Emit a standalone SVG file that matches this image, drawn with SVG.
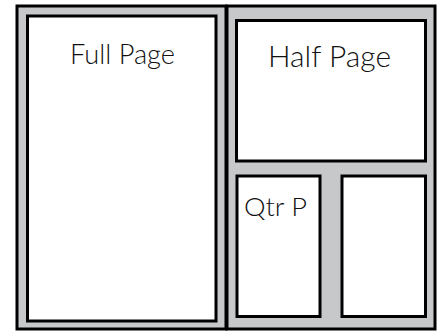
<svg xmlns="http://www.w3.org/2000/svg" width="440" height="333" viewBox="0 0 440 333">
<style>
.panel{fill:#c7c8ca;stroke:#000;stroke-width:3}
.box{fill:#fff;stroke:#000;stroke-width:3}
.lbl{font-family:Lato,"Open Sans","Liberation Sans",sans-serif;font-weight:300;fill:#111}
</style>
<rect width="440" height="333" fill="#fff"/>
<g id="left-panel"><rect class="panel" x="17" y="6" width="209" height="323"/></g>
<g id="right-panel"><rect class="panel" x="227" y="6" width="208" height="323"/></g>
<g id="full-page">
<rect class="box" x="27.5" y="16" width="188.5" height="305"/>
<text class="lbl" x="70" y="64" font-size="27" textLength="105" lengthAdjust="spacingAndGlyphs">Full Page</text>
</g>
<g id="half-page">
<rect class="box" x="236.5" y="20.5" width="189" height="140.5"/>
<text class="lbl" x="268" y="67" font-size="29" textLength="123" lengthAdjust="spacingAndGlyphs">Half Page</text>
</g>
<g id="qtr-page">
<rect class="box" x="237" y="176" width="83" height="140.5"/>
<text class="lbl" x="244" y="216" font-size="25" textLength="63" lengthAdjust="spacingAndGlyphs">Qtr P</text>
</g>
<g id="qtr-page-2">
<rect class="box" x="342" y="176" width="83.5" height="140.5"/>
</g>
<g id="connectors"></g>
</svg>
